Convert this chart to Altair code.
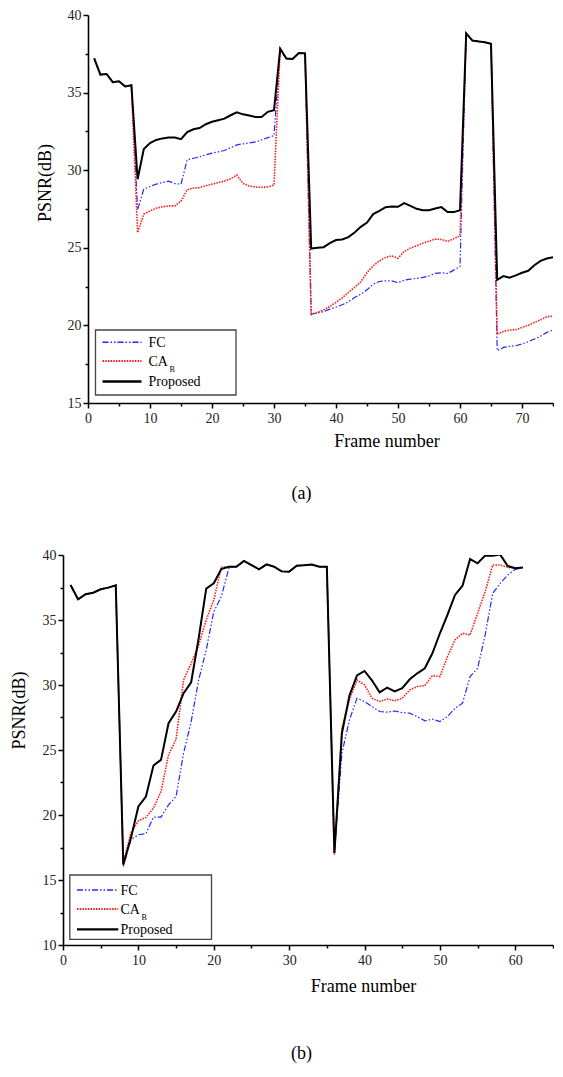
import altair as alt
import pandas as pd

FONT = "Liberation Serif"
SERIES = ["FC", "CA", "Proposed"]          # "CA" is drawn as CA with subscript B
COLORS = {"FC": "#2626ff", "CA": "#ff1a1a", "Proposed": "#000000"}
DASHES = {"FC": [6, 2, 1.5, 2, 1.5, 2], "CA": [1.5, 1.2], "Proposed": None}
WIDTHS = {"FC": 1.2, "CA": 1.6, "Proposed": 2.0}

# ---------------- panel (a) ----------------
frames_a = list(range(1, 76))
prop_a = [37.21, 36.16, 36.2, 35.67, 35.73, 35.39, 35.47, 29.42, 31.37, 31.75,
          31.95, 32.05, 32.1, 32.1, 32.0, 32.45, 32.64, 32.72, 32.96, 33.12,
          33.22, 33.32, 33.54, 33.73, 33.6, 33.52, 33.43, 33.43, 33.76, 33.86,
          37.83, 37.19, 37.17, 37.55, 37.53, 24.95, 25.0, 25.04, 25.3, 25.5,
          25.54, 25.69, 25.99, 26.35, 26.63, 27.17, 27.38, 27.62, 27.66, 27.64,
          27.88, 27.7, 27.51, 27.42, 27.42, 27.53, 27.62, 27.3, 27.3, 27.42,
          38.82, 38.35, 38.3, 38.24, 38.15, 22.94, 23.18, 23.07, 23.22, 23.39,
          23.52, 23.88, 24.16, 24.31, 24.4]
fc_a = [37.21, 36.16, 36.2, 35.67, 35.73, 35.39, 35.47, 27.45, 28.78, 28.95,
        29.1, 29.2, 29.29, 29.14, 29.1, 30.67, 30.77, 30.86, 30.99, 31.1,
        31.18, 31.27, 31.44, 31.63, 31.7, 31.76, 31.82, 31.95, 32.1, 32.23,
        37.83, 37.19, 37.17, 37.55, 37.53, 20.73, 20.8, 20.88, 21.05, 21.18,
        21.33, 21.52, 21.8, 22.01, 22.29, 22.66, 22.83, 22.87, 22.87, 22.75,
        22.92, 22.98, 23.03, 23.09, 23.18, 23.35, 23.39, 23.35, 23.56, 23.8,
        38.82, 38.35, 38.3, 38.24, 38.15, 18.37, 18.58, 18.65, 18.69, 18.8,
        18.95, 19.12, 19.31, 19.55, 19.7]
ca_a = [37.21, 36.16, 36.2, 35.67, 35.73, 35.39, 35.47, 25.98, 27.17, 27.38,
        27.55, 27.64, 27.7, 27.7, 28.0, 28.75, 28.85, 28.88, 29.0, 29.1,
        29.2, 29.3, 29.45, 29.68, 29.15, 28.98, 28.92, 28.9, 28.92, 29.05,
        37.83, 37.19, 37.17, 37.55, 37.53, 20.7, 20.84, 20.99, 21.22, 21.48,
        21.78, 22.12, 22.45, 22.81, 23.41, 23.84, 24.16, 24.38, 24.48, 24.33,
        24.76, 24.98, 25.13, 25.3, 25.43, 25.56, 25.54, 25.41, 25.58, 25.78,
        38.82, 38.35, 38.3, 38.24, 38.15, 19.44, 19.61, 19.7, 19.72, 19.87,
        20.0, 20.19, 20.36, 20.56, 20.6]

# ---------------- panel (b) ----------------
frames_b = list(range(1, 62))
prop_b = [37.69, 36.59, 36.98, 37.1, 37.36, 37.49, 37.67, 16.17, 18.22, 20.66,
          21.42, 23.81, 24.24, 27.06, 27.96, 29.37, 30.21, 33.6, 37.41, 37.82,
          38.92, 39.1, 39.1, 39.54, 39.23, 38.9, 39.28, 39.1, 38.74, 38.72,
          39.18, 39.21, 39.26, 39.1, 39.1, 17.07, 26.29, 29.19, 30.73, 31.08,
          30.34, 29.44, 29.8, 29.5, 29.75, 30.44, 30.9, 31.29, 32.44, 33.98,
          35.39, 36.93, 37.64, 39.69, 39.36, 39.95, 39.95, 40.03, 39.15, 38.98,
          39.03]
fc_b = [37.69, 36.59, 36.98, 37.1, 37.36, 37.49, 37.67, 16.04, 18.1, 18.48,
        18.56, 19.84, 19.84, 20.78, 21.42, 24.76, 27.19, 30.39, 32.7, 35.64,
        36.8, 38.98, 39.1, 39.54, 39.23, 38.9, 39.28, 39.1, 38.74, 38.72,
        39.18, 39.21, 39.26, 39.1, 39.1, 17.07, 24.76, 27.32, 28.98, 28.73,
        28.34, 27.96, 27.91, 28.0, 27.88, 27.83, 27.57, 27.24, 27.37, 27.19,
        27.57, 28.21, 28.6, 30.65, 31.29, 33.85, 37.05, 37.82, 38.46, 38.9,
        39.03]
ca_b = [37.69, 36.59, 36.98, 37.1, 37.36, 37.49, 37.67, 16.35, 18.6, 19.55,
        19.81, 20.53, 21.81, 24.63, 25.83, 30.39, 31.67, 33.08, 35.0, 36.54,
        39.05, 39.1, 39.1, 39.54, 39.23, 38.9, 39.28, 39.1, 38.74, 38.72,
        39.18, 39.21, 39.26, 39.1, 39.1, 16.95, 26.7, 28.85, 30.39, 30.01,
        28.98, 28.73, 28.93, 28.78, 28.98, 29.62, 29.88, 29.96, 30.73, 30.65,
        32.19, 33.47, 33.98, 33.85, 35.52, 37.18, 39.23, 39.23, 39.05, 38.98,
        39.03]

x_ticks_a = [0, 5, 10, 15, 20, 25, 30, 35, 40, 45, 50, 55, 60, 65, 70, 75]
y_ticks_a = [15, 17.5, 20, 22.5, 25, 27.5, 30, 32.5, 35, 37.5, 40]
x_ticks_b = [0, 5, 10, 15, 20, 25, 30, 35, 40, 45, 50, 55, 60, 65]
y_ticks_b = [10, 12.5, 15, 17.5, 20, 22.5, 25, 27.5, 30, 32.5, 35, 37.5, 40]

PW = 490   # common plot width of both panels


def long_df(frames, series_values):
    rows = []
    for s, vals in zip(SERIES, series_values):
        for f, v in zip(frames, vals):
            rows.append({"frame": f, "psnr": v, "series": s})
    return pd.DataFrame(rows)


def panel(df, xdom, xticks, ydom, yticks, H, cfg):
    sh = cfg["shift"]
    xaxis = alt.Axis(
        values=xticks, grid=False,
        labelExpr="datum.value % 10 === 0 ? datum.label : ''",
        tickSize={"condition": {"test": "datum.value % 10 === 0", "value": 5}, "value": 3},
        title="Frame number", titleX=cfg["xt"][0] + sh, titleY=cfg["xt"][1],
        titleBaseline="middle", titleAlign="center",
        titleFont=FONT, titleFontSize=18, titleFontWeight="normal", titleColor="black",
        labelFont=FONT, labelFontSize=14, labelColor="#222", labelPadding=3,
        labelFlush=False, labelOverlap=False,
        domainColor="black", domainWidth=1.6, tickColor="black", tickWidth=1.5,
    )
    yaxis = alt.Axis(
        values=yticks, grid=False, offset=-sh,
        labelExpr="datum.value % 5 === 0 ? datum.label : ''",
        tickSize={"condition": {"test": "datum.value % 5 === 0", "value": 5}, "value": 3},
        title="PSNR(dB)", titleX=cfg["yt"][0], titleY=cfg["yt"][1],
        titleBaseline="middle", titleAlign="center", titleAngle=270,
        titleFont=FONT, titleFontSize=18, titleFontWeight="normal", titleColor="black",
        labelFont=FONT, labelFontSize=14, labelColor="#222", labelPadding=2,
        labelOverlap=False,
        domainColor="black", domainWidth=1.6, tickColor="black", tickWidth=1.5,
    )
    X = alt.X("frame:Q", scale=alt.Scale(domain=xdom, range=[sh, PW], nice=False, zero=False),
              axis=xaxis)
    Y = alt.Y("psnr:Q", scale=alt.Scale(domain=ydom, nice=False, zero=False), axis=yaxis)

    layers = []
    for s in SERIES:
        kw = dict(color=COLORS[s], strokeWidth=WIDTHS[s], clip=True)
        if DASHES[s]:
            kw["strokeDash"] = DASHES[s]
        layers.append(
            alt.Chart(df).transform_filter(alt.datum.series == s)
            .mark_line(**kw).encode(x=X, y=Y)
        )

    one = pd.DataFrame({"k": [0]})
    bx = cfg["box"]
    layers.append(alt.Chart(one).mark_rect(fill="white", stroke="#444", strokeWidth=1.3).encode(
        x=alt.value(bx[0] + sh), x2=alt.value(bx[1] + sh), y=alt.value(bx[2]), y2=alt.value(bx[3])))
    for i, s in enumerate(SERIES):
        kw = dict(color=COLORS[s], strokeWidth=WIDTHS[s] + 0.3)
        if DASHES[s]:
            kw["strokeDash"] = DASHES[s]
        layers.append(alt.Chart(one).mark_rule(**kw).encode(
            x=alt.value(cfg["lx"][0] + sh), x2=alt.value(cfg["lx"][1] + sh), y=alt.value(cfg["ly"][i])))
        layers.append(alt.Chart(one).mark_text(
            align="left", baseline="alphabetic", font=FONT, fontSize=14, color="black").encode(
            x=alt.value(cfg["tx"] + sh), y=alt.value(cfg["ty"][i]), text=alt.value(s)))
    layers.append(alt.Chart(one).mark_text(
        align="left", baseline="alphabetic", font=FONT, fontSize=8, color="black").encode(
        x=alt.value(cfg["sub"][0] + sh), y=alt.value(cfg["sub"][1]), text=alt.value("B")))
    layers.append(alt.Chart(one).mark_text(
        align="center", baseline="middle", font=FONT, fontSize=18, color="black").encode(
        x=alt.value(cfg["cap"][0] + sh), y=alt.value(cfg["cap"][1]), text=alt.value(cfg["cap"][2])))
    # invisible extent rule (fixes left/top/bottom extent of the panel)
    layers.append(alt.Chart(one).mark_rule(opacity=0, strokeWidth=1).encode(
        x=alt.value(-54.5), y=alt.value(-7), y2=alt.value(cfg["bottom"])))
    return alt.layer(*layers).properties(width=PW, height=H)


df_a = long_df(frames_a, [fc_a, ca_a, prop_a])
df_b = long_df(frames_b, [fc_b, ca_b, prop_b])

cfg_a = dict(shift=25, xt=(298.5, 38), yt=(-42.5, 167.5), box=(7.5, 148, 315, 380),
             lx=(14.5, 53.5), ly=(327.3, 346, 366.5), tx=60.5, ty=(332, 351, 371),
             sub=(81.5, 356.5), cap=(213.5, 479, "(a)"), bottom=500)
cfg_b = dict(shift=0, xt=(300, 41.5), yt=(-43.5, 155), box=(6.8, 148.5, 320, 384.3),
             lx=(14, 55.3), ly=(335, 354, 374.3), tx=57.5, ty=(340, 359, 379),
             sub=(78.5, 365), cap=(238.5, 499, "(b)"), bottom=10)

top = panel(df_a, [0, 75], x_ticks_a, [15, 40], y_ticks_a, 388, cfg_a)
bottom = panel(df_b, [0, 65], x_ticks_b, [10, 40], y_ticks_b, 390, cfg_b)

chart = alt.vconcat(top, bottom, spacing=33).properties(
    padding={"left": 0, "top": 0, "right": 0, "bottom": 0}
).configure_view(strokeWidth=0)

chart.save("out.html", embed_options={"renderer": "svg", "actions": False})
